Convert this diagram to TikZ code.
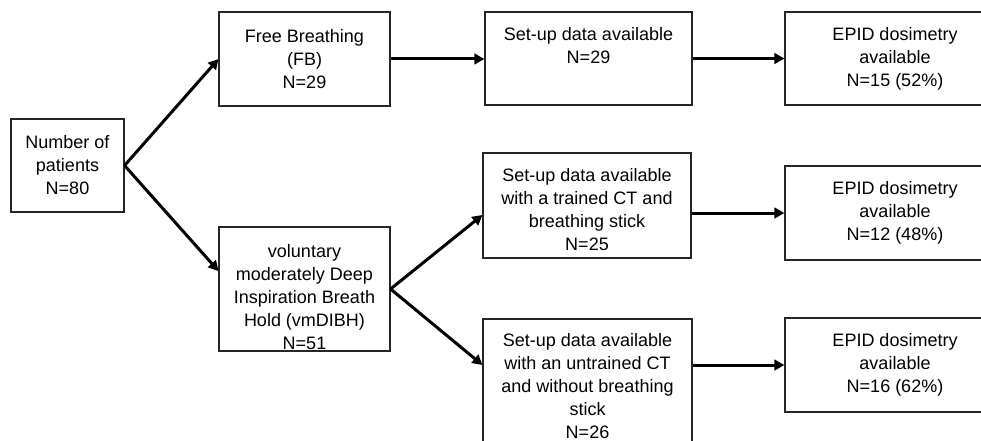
\documentclass[tikz,border=0pt]{standalone}
\usepackage{fontspec}
\setmainfont{Liberation Sans}
\usetikzlibrary{arrows.meta}
\begin{document}
\begin{tikzpicture}[x=1pt,y=-1pt,
  bx/.style={draw=black!85, line width=1.1pt, rectangle, inner sep=0pt, align=center,
    text=black, font=\fontsize{18}{23}\selectfont},
  txt/.style={inner sep=0pt, align=center, text=black, font=\fontsize{18}{23}\selectfont},
  arr/.style={draw=black, line width=3pt, -{Triangle[length=10pt,width=10.5pt]}}]
\useasboundingbox (0,0) rectangle (981,441);
\clip (0,0) rectangle (981,441);
\fill[white] (0,0) rectangle (981,441);
% boxes
\node[bx, minimum width=113pt, minimum height=93pt] (a) at (67.5,165.5) {Number of\\patients\\N=80};
\node[bx, minimum width=171pt, minimum height=94pt] (fb) at (304.5,59) {Free Breathing\\(FB)\\N=29};
\node[bx, minimum width=171pt, minimum height=124pt] (vm) at (304.5,289) {};
\node[txt] (vmt) at (304.5,297) {voluntary\\moderately Deep\\Inspiration Breath\\Hold (vmDIBH)\\N=51};
\node[bx, minimum width=207pt, minimum height=93pt] (s1) at (588.5,58.5) {};
\node[txt] (s1t) at (588.5,46) {Set-up data available\\N=29};
\node[bx, minimum width=208pt, minimum height=105pt] (tr) at (587,205.5) {};
\node[txt] (trt) at (587,209.5) {Set-up data available\\with a trained CT and\\breathing stick\\N=25};
\node[bx, minimum width=209pt, minimum height=151pt] (un) at (587.5,394.5) {};
\node[txt] (unt) at (587.5,386.5) {Set-up data available\\with an untrained CT\\and without breathing\\stick\\N=26};
\node[bx, minimum width=220pt, minimum height=93pt] (e1) at (895,58.5) {EPID dosimetry\\available\\N=15 (52\%)};
\node[bx, minimum width=220pt, minimum height=94pt] (e2) at (895,213) {EPID dosimetry\\available\\N=12 (48\%)};
\node[bx, minimum width=220pt, minimum height=94pt] (e3) at (895,365) {EPID dosimetry\\available\\N=16 (62\%)};
% connectors
\draw[arr] (a.east) -- (fb.west);
\draw[arr] (a.east) -- ([yshift=18pt]vm.west);
\draw[arr] (vm.east) -- ([yshift=-9.5pt]tr.west);
\draw[arr] (vm.east) -- ([yshift=29.5pt]un.west);
\draw[arr] (fb.east) -- (fb.east -| s1.west);
\draw[arr] (s1.east) -- (s1.east -| e1.west);
\draw[arr] (tr.east |- e2.west) -- (e2.west);
\draw[arr] (un.east |- e3.west) -- (e3.west);
\end{tikzpicture}
\end{document}
